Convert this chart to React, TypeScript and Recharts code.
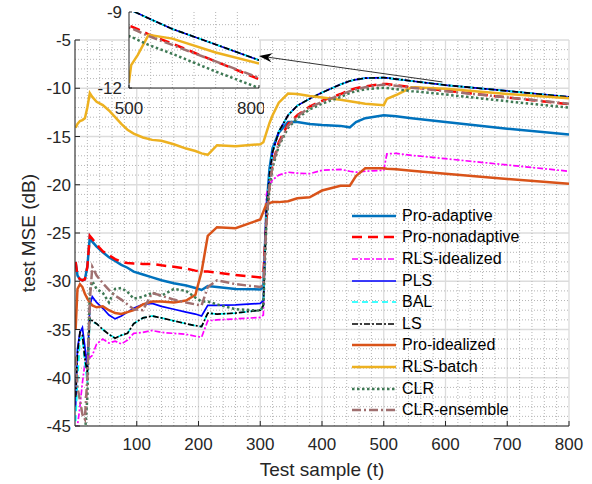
import { LineChart, Line, XAxis, YAxis, CartesianGrid, ReferenceLine, Legend } from 'recharts';

const FONT = '"Liberation Sans", Arial, Helvetica, sans-serif';

// test sample index (shared by every series)
const samples = [1, 4, 8, 12, 16, 20, 24, 28, 35, 45, 55, 65, 75, 85, 95, 110, 125, 140, 160, 180, 195, 205, 215, 230, 260, 300, 305, 310, 315, 320, 330, 345, 360, 380, 400, 430, 445, 455, 470, 500, 505, 520, 545, 600, 700, 800];

// test MSE (dB) per method
const proAdaptive = [-28.0, -29.4, -29.8, -29.9, -29.8, -28.5, -25.4, -25.9, -26.4, -27.0, -27.5, -27.9, -28.3, -28.6, -29.0, -29.3, -29.6, -29.9, -30.2, -30.45, -30.7, -30.9, -30.5, -30.6, -30.8, -30.85, -30.6, -22.5, -18.3, -16.2, -14.6, -13.5, -13.5, -13.7, -13.8, -13.9, -14.05, -13.5, -13.1, -12.8, -12.82, -12.9, -13.1, -13.5, -14.2, -14.8];
const proNonadaptive = [-28.0, -29.4, -29.8, -29.9, -29.8, -28.5, -25.3, -25.6, -26.2, -26.9, -27.3, -27.7, -28.0, -28.1, -28.15, -28.2, -28.2, -28.35, -28.5, -28.7, -28.9, -29.0, -29.0, -29.1, -29.35, -29.6, -29.4, -23.5, -20.0, -17.8, -15.6, -13.7, -12.8, -11.9, -11.3, -10.6, -10.2, -10.0, -9.8, -9.55, -9.57, -9.68, -9.88, -10.25, -10.95, -11.65];
const rlsIdealized = [-45.5, -45.0, -43.0, -40.5, -38.5, -37.3, -37.9, -37.7, -36.5, -36.0, -36.4, -36.2, -36.5, -36.1, -35.4, -35.3, -35.1, -35.3, -35.4, -35.5, -35.7, -35.8, -34.1, -34.0, -33.9, -33.75, -33.5, -21.0, -20.0, -19.5, -19.0, -18.7, -18.8, -18.85, -18.5, -18.4, -18.6, -18.7, -18.6, -18.5, -16.8, -16.75, -16.95, -17.3, -17.95, -18.6];
const pls = [-43.0, -37.0, -35.3, -34.8, -36.8, -39.0, -32.5, -31.6, -32.2, -32.8, -33.5, -33.9, -33.6, -33.2, -32.8, -32.4, -32.3, -32.6, -32.9, -33.2, -33.4, -33.6, -32.5, -32.5, -32.45, -32.3, -32.0, -22.5, -19.0, -16.6, -14.5, -12.8, -11.8, -11.1, -10.45, -9.6, -9.25, -9.1, -8.95, -8.9, -8.93, -9.05, -9.25, -9.67, -10.28, -10.9];
const bal = [-44.5, -40.5, -36.0, -35.8, -38.5, -40.5, -33.9, -34.2, -34.4, -35.0, -35.5, -35.9, -35.6, -35.4, -34.4, -33.8, -33.6, -33.8, -34.1, -34.4, -34.6, -34.7, -33.3, -33.4, -33.3, -33.0, -32.5, -22.5, -19.0, -16.6, -14.5, -12.8, -11.8, -11.1, -10.45, -9.6, -9.25, -9.1, -8.95, -8.9, -8.93, -9.05, -9.25, -9.67, -10.28, -10.9];
const ls = [-42.0, -37.5, -35.3, -35.6, -38.0, -39.5, -33.8, -34.1, -34.4, -35.0, -35.5, -35.9, -35.6, -35.4, -34.4, -33.8, -33.6, -33.8, -34.1, -34.4, -34.6, -34.7, -33.3, -33.4, -33.3, -33.0, -32.5, -22.5, -19.0, -16.6, -14.5, -12.8, -11.8, -11.1, -10.45, -9.6, -9.25, -9.1, -8.95, -8.9, -8.93, -9.05, -9.25, -9.67, -10.28, -10.9];
const proIdealized = [-35.0, -30.8, -30.3, -30.6, -31.3, -31.8, -32.2, -32.5, -32.7, -32.6, -33.0, -33.3, -33.4, -33.2, -33.0, -32.4, -32.1, -32.1, -32.2, -32.0, -31.4, -29.0, -25.3, -24.4, -24.5, -23.6, -22.8, -22.0, -21.9, -21.8, -21.8, -21.7, -21.4, -21.3, -20.6, -20.1, -20.1, -19.1, -18.3, -18.3, -18.35, -18.4, -18.55, -18.85, -19.4, -19.9];
const rlsBatch = [-14.1, -13.7, -13.4, -13.3, -13.1, -12.0, -10.5, -10.9, -11.4, -11.75, -12.3, -13.0, -13.7, -14.3, -14.7, -15.1, -15.35, -15.45, -15.8, -16.25, -16.5, -16.75, -16.9, -15.9, -16.0, -15.8, -15.6, -14.6, -13.6, -12.8, -11.5, -10.55, -10.6, -10.8, -10.95, -11.2, -11.35, -11.45, -11.6, -11.75, -11.1, -10.7, -9.9, -10.05, -10.6, -11.03];
const clr = [-46.0, -46.0, -46.0, -46.0, -46.0, -42.0, -31.0, -30.0, -30.8, -31.2, -32.2, -30.8, -30.7, -31.1, -31.8, -31.6, -31.2, -31.5, -30.8, -31.0, -31.7, -32.1, -32.1, -32.4, -32.9, -33.05, -32.6, -24.0, -20.3, -18.2, -16.0, -14.1, -13.1, -12.2, -11.6, -10.9, -10.5, -10.3, -10.1, -9.95, -9.98, -10.1, -10.3, -10.65, -11.35, -12.0];
const clrEnsemble = [-37.8, -41.0, -42.3, -43.8, -44.3, -40.0, -32.0, -28.5, -29.4, -30.2, -30.9, -31.5, -31.9, -32.4, -32.9, -33.0, -31.2, -31.5, -31.9, -32.2, -32.4, -32.5, -30.6, -29.9, -30.3, -30.6, -30.4, -23.8, -20.0, -17.9, -15.8, -13.9, -12.9, -12.0, -11.4, -10.7, -10.3, -10.1, -9.9, -9.62, -9.64, -9.75, -9.95, -10.3, -10.95, -11.6];

const xTicks = [100, 200, 300, 400, 500, 600, 700, 800];
const yTicks = [-45, -40, -35, -30, -25, -20, -15, -10, -5];
const insetXTicks = [500, 800];
const insetYTicks = [-12, -9];

const series = [
  { key: 'pa', name: 'Pro-adaptive', values: proAdaptive, color: '#0072BD', width: 2.5, dash: undefined },
  { key: 'pn', name: 'Pro-nonadaptive', values: proNonadaptive, color: '#FF0000', width: 2.5, dash: '10 6' },
  { key: 'ri', name: 'RLS-idealized', values: rlsIdealized, color: '#FF00FF', width: 1.7, dash: '6 2 2 2' },
  { key: 'pls', name: 'PLS', values: pls, color: '#0000FF', width: 1.7, dash: undefined },
  { key: 'bal', name: 'BAL', values: bal, color: '#00FFFF', width: 1.7, dash: '6 4' },
  { key: 'ls', name: 'LS', values: ls, color: '#000000', width: 1.7, dash: '6 2 2 2' },
  { key: 'pi', name: 'Pro-idealized', values: proIdealized, color: '#D95319', width: 2.5, dash: undefined },
  { key: 'rb', name: 'RLS-batch', values: rlsBatch, color: '#EDB120', width: 2.5, dash: undefined },
  { key: 'clr', name: 'CLR', values: clr, color: '#3F7A55', width: 2.5, dash: '2.5 2.5' },
  { key: 'ce', name: 'CLR-ensemble', values: clrEnsemble, color: '#A07070', width: 2.5, dash: '9 3 2 3' },
];

const rows = samples.map((t, i) => {
  const row: Record<string, number> = { t };
  series.forEach((s) => { row[s.key] = s.values[i]; });
  return row;
});

// dotted minor grid
const minorX: number[] = [];
for (let v = 20; v < 800; v += 20) if (v % 100 !== 0) minorX.push(v);
const minorY: number[] = [];
for (let v = -44; v < -5; v += 1) if (v % 5 !== 0) minorY.push(v);
const insetMinorX = [550, 600, 650, 700, 750];
const insetMinorY = [-11.5, -11, -10.5, -10, -9.5];

// arrow from the curves to the zoom box
const arrowFrom = { x: 595, y: -9.35 };
const arrowTo = { x: 298, y: -6.65 };

const AXIS = '#262626';
const MINOR = '#b4b4b4';
const tickStyle = { fill: AXIS, fontSize: 17, fontFamily: FONT };

const Arrow = (p: any) => {
  const { x1, y1, x2, y2 } = p;
  if (x1 == null) return null;
  const a = Math.atan2(y2 - y1, x2 - x1);
  const c = Math.cos(a), s = Math.sin(a);
  const L = 13, W = 4.5, N = 9;
  const pts = [
    [x2, y2],
    [x2 - L * c + W * s, y2 - L * s - W * c],
    [x2 - N * c, y2 - N * s],
    [x2 - L * c - W * s, y2 - L * s + W * c],
  ].map((q) => q.join(',')).join(' ');
  return (
    <g>
      <line x1={x1} y1={y1} x2={x2 - N * c} y2={y2 - N * s} stroke="#000" strokeWidth={0.8} />
      <polygon points={pts} fill="#000" />
    </g>
  );
};

const renderLegend = () => (
  <div style={{ fontFamily: FONT, fontSize: 16, color: '#000' }}>
    {series.map((s) => (
      <div key={s.key} style={{ display: 'flex', alignItems: 'center', height: 21.6 }}>
        <svg width={46} height={10}>
          <line x1={1} y1={5} x2={45} y2={5} stroke={s.color} strokeWidth={s.width} strokeDasharray={s.dash} />
        </svg>
        <span style={{ marginLeft: 5, lineHeight: '18px' }}>{s.name}</span>
      </div>
    ))}
  </div>
);

const drawLines = () =>
  series.map((s) => (
    <Line
      key={s.key}
      dataKey={s.key}
      name={s.name}
      type="linear"
      stroke={s.color}
      strokeWidth={s.width}
      strokeDasharray={s.dash}
      dot={false}
      activeDot={false}
      isAnimationActive={false}
    />
  ));

export default function App() {
  return (
    <div style={{ position: 'absolute', left: 0, top: 0, width: 592, height: 484, background: '#fff', fontFamily: FONT }}>
      <div style={{ position: 'absolute', left: 0, top: 0 }}>
        <LineChart width={592} height={484} data={rows} margin={{ top: 40, right: 23, bottom: 0, left: 0 }}>
          <CartesianGrid stroke="#dcdcdc" strokeWidth={1.3} fill="#fff" />
          {minorX.map((v) => (
            <ReferenceLine key={'mx' + v} x={v} stroke={MINOR} strokeWidth={1} strokeDasharray="1 2" />
          ))}
          {minorY.map((v) => (
            <ReferenceLine key={'my' + v} y={v} stroke={MINOR} strokeWidth={1} strokeDasharray="1 2" />
          ))}
          <XAxis
            dataKey="t"
            type="number"
            domain={[0, 800]}
            ticks={xTicks}
            allowDataOverflow
            height={58}
            tickSize={-5}
            tickMargin={17}
            stroke={AXIS}
            tick={tickStyle}
            label={{ value: 'Test sample (t)', position: 'insideBottom', offset: 8, style: { fontSize: 19, fill: AXIS, fontFamily: FONT } }}
          />
          <YAxis
            type="number"
            domain={[-45, -5]}
            ticks={yTicks}
            allowDataOverflow
            width={75}
            tickSize={-5}
            tickMargin={9}
            stroke={AXIS}
            tick={tickStyle}
            label={{ value: 'test MSE (dB)', angle: -90, position: 'insideLeft', offset: 28, style: { textAnchor: 'middle', fontSize: 19, fill: AXIS, fontFamily: FONT } }}
          />
          <XAxis xAxisId="top" orientation="top" dataKey="t" type="number" domain={[0, 800]} ticks={xTicks} height={0} tickSize={-5} tick={false} stroke={AXIS} />
          <YAxis yAxisId="right" orientation="right" type="number" domain={[-45, -5]} ticks={yTicks} width={0} tickSize={-5} tick={false} stroke={AXIS} />
          {drawLines()}
          <ReferenceLine segment={[arrowFrom, arrowTo]} shape={Arrow} ifOverflow="visible" />
          <Legend
            content={renderLegend}
            layout="horizontal"
            verticalAlign="middle"
            align="center"
            wrapperStyle={{ left: 351, top: 205, width: 200 }}
          />
        </LineChart>
      </div>
      <div style={{ position: 'absolute', left: 84, top: 2 }}>
        <LineChart width={180} height={120} data={rows} margin={{ top: 10, right: 5, bottom: 0, left: 0 }}>
          <CartesianGrid fill="#fff" stroke="none" />
          {insetMinorX.map((v) => (
            <ReferenceLine key={'ix' + v} x={v} stroke={MINOR} strokeWidth={1} strokeDasharray="1 2" />
          ))}
          {insetMinorY.map((v) => (
            <ReferenceLine key={'iy' + v} y={v} stroke={MINOR} strokeWidth={1} strokeDasharray="1 2" />
          ))}
          <XAxis dataKey="t" type="number" domain={[500, 800]} ticks={insetXTicks} allowDataOverflow height={34} tickSize={-3} tickMargin={17} stroke={AXIS} tick={tickStyle} />
          <YAxis type="number" domain={[-12, -9]} ticks={insetYTicks} allowDataOverflow width={45} tickSize={-3} tickMargin={10} stroke={AXIS} tick={tickStyle} />
          <XAxis xAxisId="top" orientation="top" dataKey="t" type="number" domain={[500, 800]} ticks={insetXTicks} height={0} tickSize={-3} tick={false} stroke={AXIS} />
          <YAxis yAxisId="right" orientation="right" type="number" domain={[-12, -9]} ticks={insetYTicks} width={0} tickSize={-3} tick={false} stroke={AXIS} />
          {drawLines()}
        </LineChart>
      </div>
    </div>
  );
}
